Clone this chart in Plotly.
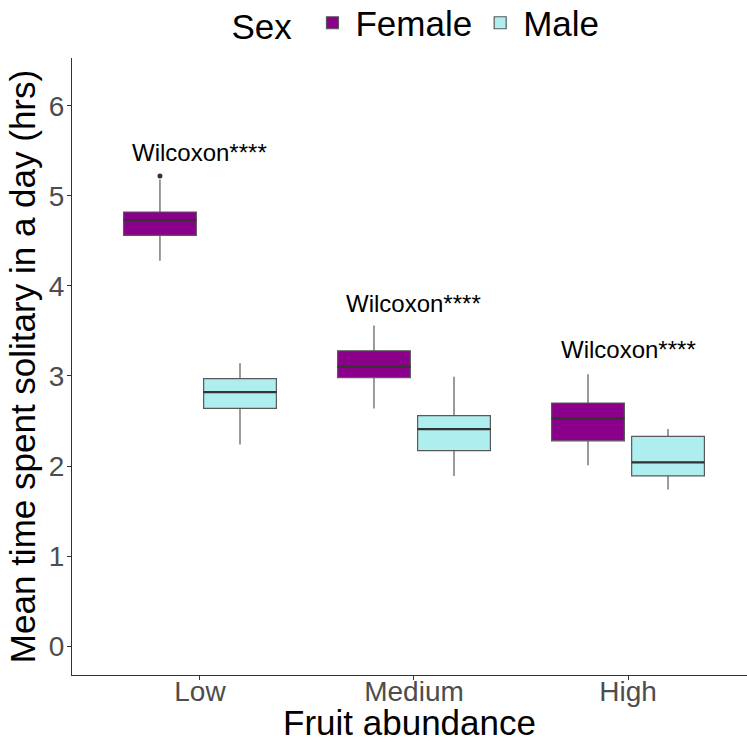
import plotly.graph_objects as go

categories = ["Low", "Medium", "High"]
sexes = ["Female", "Male"]
colors = {"Female": "#8B008B", "Male": "#AEEEEE"}

# precomputed box stats per sex, in category order
lower = {"Female": [4.28, 2.64, 2.01], "Male": [2.24, 1.89, 1.74]}
q1 = {"Female": [4.56, 2.98, 2.28], "Male": [2.64, 2.17, 1.89]}
med = {"Female": [4.73, 3.10, 2.53], "Male": [2.82, 2.41, 2.04]}
q3 = {"Female": [4.82, 3.28, 2.70], "Male": [2.97, 2.56, 2.33]}
upper = {"Female": [5.18, 3.56, 3.02], "Male": [3.14, 2.99, 2.41]}

outlier_cat = ["Low"]
outlier_sex = ["Female"]
outlier_val = [5.22]

labels_text = ["Wilcoxon****", "Wilcoxon****", "Wilcoxon****"]
labels_y = [5.48, 3.80, 3.29]

dodge = 0.187
box_w = 0.34
offsets = {"Female": -dodge, "Male": dodge}

fig = go.Figure()
for s in sexes:
    xs = [i + 1 + offsets[s] for i in range(len(categories))]
    fig.add_trace(go.Box(
        name=s, x=xs, q1=q1[s], median=med[s], q3=q3[s],
        lowerfence=lower[s], upperfence=upper[s],
        width=box_w, whiskerwidth=0,
        fillcolor=colors[s], line=dict(color="#595959", width=1.2),
        boxpoints=False, hoverinfo="skip"))

# thicker median segments (ggplot style)
for s in sexes:
    mx, my = [], []
    for i, m in enumerate(med[s]):
        c = i + 1 + offsets[s]
        mx += [c - box_w / 2, c + box_w / 2, None]
        my += [m, m, None]
    fig.add_trace(go.Scatter(x=mx, y=my, mode="lines",
                             line=dict(color="#333333", width=2.2),
                             showlegend=False, hoverinfo="skip"))

fig.add_trace(go.Scatter(
    x=[categories.index(c) + 1 + offsets[s] for c, s in zip(outlier_cat, outlier_sex)],
    y=outlier_val, mode="markers", marker=dict(color="#333333", size=5),
    showlegend=False))

for i, (t, yv) in enumerate(zip(labels_text, labels_y)):
    fig.add_annotation(x=i + 1, y=yv, text=t, showarrow=False,
                       font=dict(family="Liberation Sans", size=24, color="black"))

fig.update_layout(
    width=747, height=742,
    margin=dict(l=72, r=0, t=58, b=67),
    plot_bgcolor="white", paper_bgcolor="white",
    boxmode="overlay",
    font=dict(family="Liberation Sans"),
    legend=dict(orientation="h", x=0.511, xanchor="center", y=0.969, yanchor="middle",
                yref="container",
                title=dict(text="Sex ", font=dict(size=35, color="black")),
                font=dict(size=35, color="black"), itemwidth=36),
    xaxis=dict(range=[0.402, 3.556], tickvals=[1, 2, 3], ticktext=categories,
               showgrid=False, zeroline=False, showline=True, linecolor="#333333",
               ticks="outside", ticklen=4, tickcolor="#333333", automargin=False,
               ticklabelstandoff=-13,
               tickfont=dict(size=28, color="#4D4D4D"),
               title=dict(text="Fruit abundance", font=dict(size=35, color="black"), standoff=0)),
    yaxis=dict(range=[-0.32, 6.53], tickvals=[0, 1, 2, 3, 4, 5, 6],
               showgrid=False, zeroline=False, showline=True, linecolor="#333333",
               ticks="outside", ticklen=4, tickcolor="#333333", automargin=False,
               ticklabelstandoff=-3,
               tickfont=dict(size=28, color="#4D4D4D"),
               title=dict(text="Mean time spent solitary in a day (hrs)",
                          font=dict(size=35, color="black"), standoff=2)),
)

fig.write_html("out.html")
